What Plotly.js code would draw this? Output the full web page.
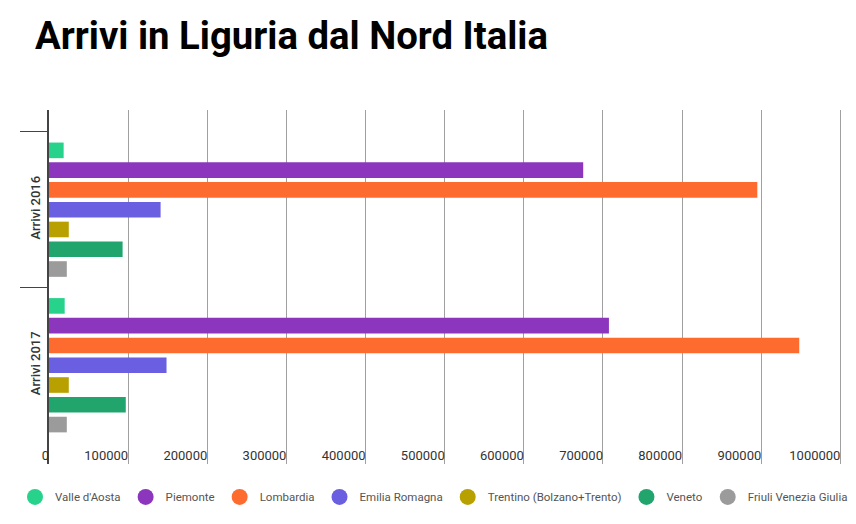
<!DOCTYPE html>
<html>
<head>
<meta charset="utf-8">
<script src="https://cdn.plot.ly/plotly-3.0.1.min.js"></script>
<style>html,body{margin:0;padding:0;background:#fff;}#chart{width:856px;height:524px;}</style>
</head>
<body>
<div id="chart"></div>
<script>
const categories = ["Arrivi 2016", "Arrivi 2017"];
const regions = ["Valle d'Aosta", "Piemonte", "Lombardia", "Emilia Romagna", "Trentino (Bolzano+Trento)", "Veneto", "Friuli Venezia Giulia"];
const valleAosta = [18500, 19800];
const piemonte = [675000, 707500];
const lombardia = [895000, 948000];
const emiliaRomagna = [141000, 148500];
const trentino = [25000, 25000];
const veneto = [93000, 97000];
const friuli = [22500, 22500];
const seriesValues = [valleAosta, piemonte, lombardia, emiliaRomagna, trentino, veneto, friuli];
const colors = ["#27d28b", "#8c36be", "#fe6b2e", "#6a5fe0", "#b8a000", "#21a56d", "#9b9b9b"];
const xTicks = [0, 100000, 200000, 300000, 400000, 500000, 600000, 700000, 800000, 900000, 1000000];

const traces = [];
regions.forEach((name, i) => {
  traces.push({
    type: 'bar', orientation: 'h', name: name,
    y: categories, x: seriesValues[i],
    marker: {color: colors[i]},
    showlegend: false, hoverinfo: 'x+name'
  });
});
regions.forEach((name, i) => {
  traces.push({
    type: 'scatter', mode: 'markers', name: name,
    x: [null], y: [null],
    marker: {color: colors[i], size: 16, symbol: 'circle'},
    showlegend: true, hoverinfo: 'skip'
  });
});

const layout = {
  width: 856, height: 524,
  paper_bgcolor: '#fff', plot_bgcolor: '#fff',
  margin: {l: 49, r: 14, t: 110, b: 60},
  font: {family: 'Roboto, sans-serif', color: '#333'},
  title: {
    text: 'Arrivi in Liguria dal Nord Italia',
    font: {family: 'Roboto, sans-serif', size: 38.3, color: '#000', weight: 'bold'},
    xref: 'container', x: 35/856, xanchor: 'left',
    yref: 'container', y: 1 - 35.5/524, yanchor: 'middle'
  },
  barmode: 'group', bargap: 0.11, bargroupgap: 0.21,
  xaxis: {
    range: [0, 1002000], tickvals: xTicks, ticktext: xTicks.map(String),
    showgrid: true, gridcolor: '#a0a0a0', gridwidth: 1,
    zeroline: false, showline: false, ticks: '',
    ticklabelposition: 'inside left', ticklabeloverflow: 'allow',
    ticklabelstandoff: -5,
    tickfont: {size: 13, color: '#333', family: 'Roboto, sans-serif'},
    fixedrange: true
  },
  yaxis: {
    type: 'category', range: [1.635, -0.641],
    showgrid: false, zeroline: false,
    showline: true, linecolor: '#444', linewidth: 2,
    ticks: 'outside', ticklen: 27, tickcolor: '#444', tickwidth: 1,
    tickson: 'boundaries', tickangle: -90, ticklabelstandoff: 2,
    tickfont: {size: 13, color: '#333', family: 'Roboto, sans-serif', weight: 500},
    fixedrange: true
  },
  legend: {
    orientation: 'h', xref: 'paper', yref: 'paper',
    x: -0.0429, xanchor: 'left', y: -0.093, yanchor: 'middle',
    font: {size: 11.5, color: '#555', family: 'Roboto, sans-serif'},
    itemsizing: 'trace', itemwidth: 30
  },
  showlegend: true
};

Plotly.newPlot('chart', traces, layout, {displayModeBar: false, staticPlot: true});
</script>
</body>
</html>
